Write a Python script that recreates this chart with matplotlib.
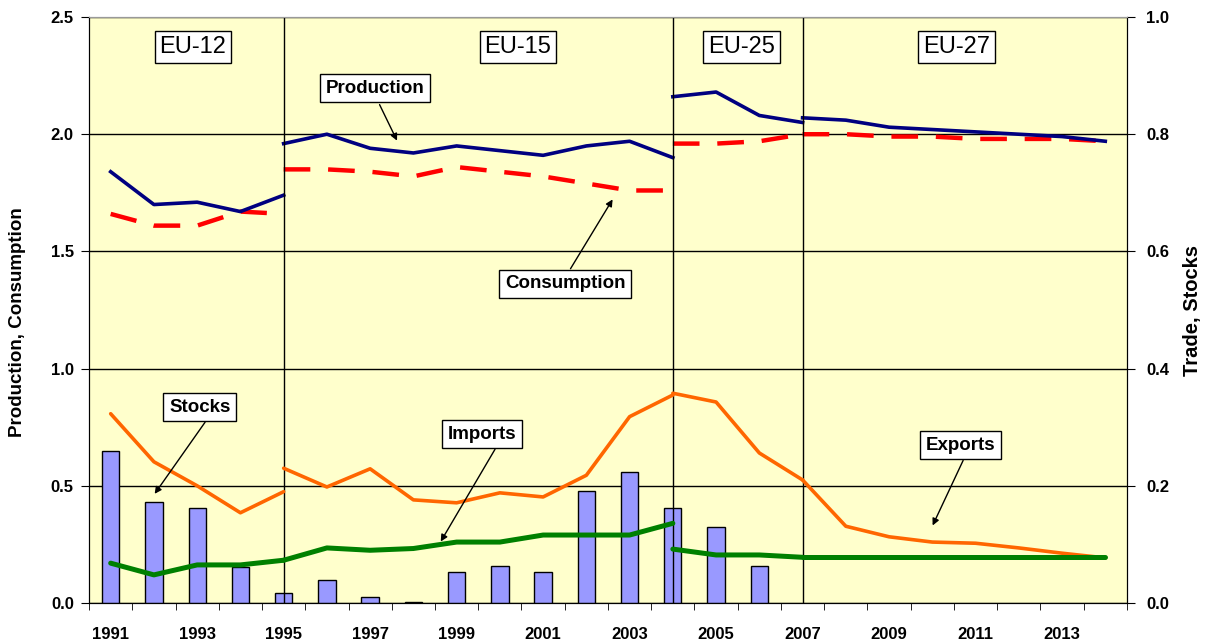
import matplotlib
matplotlib.use("Agg")
import matplotlib.pyplot as plt

plt.rcParams["font.family"] = ["Liberation Sans", "DejaVu Sans"]

# --- data ---
yrs_eu12 = [1991, 1992, 1993, 1994, 1995]
yrs_eu15 = list(range(1995, 2005))
yrs_eu25 = [2004, 2005, 2006, 2007]
yrs_eu27 = list(range(2007, 2015))

prod_eu12 = [1.84, 1.70, 1.71, 1.67, 1.74]
prod_eu15 = [1.96, 2.00, 1.94, 1.92, 1.95, 1.93, 1.91, 1.95, 1.97, 1.90]
prod_eu25 = [2.16, 2.18, 2.08, 2.05]
prod_eu27 = [2.07, 2.06, 2.03, 2.02, 2.01, 2.00, 1.99, 1.97]

cons_eu12 = [1.66, 1.61, 1.61, 1.67, 1.66]
cons_eu15 = [1.85, 1.85, 1.84, 1.82, 1.86, 1.84, 1.82, 1.79, 1.76, 1.76]
cons_eu25 = [1.96, 1.96, 1.97, 2.00]
cons_eu27 = [2.00, 2.00, 1.99, 1.99, 1.98, 1.98, 1.98, 1.97]

exp_eu12 = [0.323, 0.241, 0.200, 0.154, 0.190]
exp_eu15 = [0.230, 0.198, 0.229, 0.176, 0.171, 0.188, 0.181, 0.218, 0.318, 0.355]
exp_eu25 = [0.358, 0.343, 0.256, 0.210]
exp_eu27 = [0.210, 0.131, 0.113, 0.104, 0.102, 0.094, 0.085, 0.077]

imp_eu12 = [0.068, 0.048, 0.065, 0.065, 0.073]
imp_eu15 = [0.073, 0.094, 0.090, 0.093, 0.104, 0.104, 0.116, 0.116, 0.116, 0.136]
imp_eu25 = [0.092, 0.082, 0.082, 0.078]
imp_eu27 = [0.078, 0.078, 0.078, 0.078, 0.078, 0.078, 0.078, 0.078]

stock_years = list(range(1991, 2007))
stocks = [0.259, 0.172, 0.162, 0.061, 0.017, 0.039, 0.010, 0.002,
          0.053, 0.063, 0.053, 0.191, 0.223, 0.162, 0.129, 0.063]

breaks = [1995, 2004, 2007]
blocs = ["EU-12", "EU-15", "EU-25", "EU-27"]
bloc_x = [1992.9, 2000.42, 2005.59, 2010.56]
tick_years = list(range(1991, 2014, 2))

segs = [yrs_eu12, yrs_eu15, yrs_eu25, yrs_eu27]

fig = plt.figure(figsize=(12.05, 6.4), dpi=100)
ax = fig.add_axes([0.0739, 0.0578, 0.8613, 0.9156])
ax2 = ax.twinx()

ax.set_facecolor("#FFFFCC")
ax.set_xlim(1990.5, 2014.5)
ax.set_ylim(0, 2.5)
ax2.set_ylim(0, 1.0)
ax.set_yticks([0, 0.5, 1.0, 1.5, 2.0, 2.5])
ax2.set_yticks([0, 0.2, 0.4, 0.6, 0.8, 1.0])
ax.grid(axis="y", color="black", lw=1)
ax.set_axisbelow(True)

# stocks bars + trade lines on the right axis
ax2.bar(stock_years, stocks, width=0.4, color="#9999FF", edgecolor="black", lw=1, zorder=2)
for b in breaks:
    ax2.axvline(b, color="black", lw=1, zorder=2.5)
for x, e, i in zip(segs, [exp_eu12, exp_eu15, exp_eu25, exp_eu27],
                   [imp_eu12, imp_eu15, imp_eu25, imp_eu27]):
    ax2.plot(x, e, color="#FF6600", lw=2.6, zorder=3, solid_capstyle="round")
    ax2.plot(x, i, color="#008000", lw=3.6, zorder=3, solid_capstyle="round")

# production / consumption on the left axis
for x, p, c in zip(segs, [prod_eu12, prod_eu15, prod_eu25, prod_eu27],
                   [cons_eu12, cons_eu15, cons_eu25, cons_eu27]):
    ax.plot(x, c, color="#FF0000", lw=3.2, dashes=(6, 4), zorder=3)
    ax.plot(x, p, color="#000080", lw=2.6, zorder=3)

# ticks
ax.set_xticks(tick_years)
ax.set_xticklabels([str(y) for y in tick_years], fontsize=12, fontweight="bold")
ax.set_xticks([y + 0.5 for y in range(1990, 2015)], minor=True)
ax.tick_params(axis="x", which="major", length=0, pad=17)
ax.tick_params(axis="x", which="minor", length=5, direction="out")
ax.tick_params(axis="y", length=6, labelsize=12, pad=5)
ax2.tick_params(axis="y", length=6, labelsize=12, pad=8)
ax.set_yticklabels([f"{v:.1f}" for v in ax.get_yticks()], fontweight="bold")
ax2.set_yticklabels([f"{v:.1f}" for v in ax2.get_yticks()], fontweight="bold")
ax.spines["top"].set_color("#999999")
ax2.spines["top"].set_color("#999999")

ax.set_ylabel("Production, Consumption", fontsize=13.5, fontweight="bold")
ax2.set_ylabel("Trade, Stocks", fontsize=14.5, fontweight="bold")
ax.yaxis.set_label_coords(-0.061, 0.48)
ax2.yaxis.set_label_coords(1.054, 0.5)

box = dict(boxstyle="square,pad=0.2", fc="white", ec="black", lw=1)
for name, x in zip(blocs, bloc_x):
    ax2.text(x, 2.372, name, transform=ax.transData, fontsize=17,
             ha="center", va="center", bbox=box, zorder=5)

notes = [("Production", (1997.12, 2.197), (1997.19, 2.137), (1997.65, 1.962)),
         ("Consumption", (2001.51, 1.361), (2001.60, 1.416), (2002.64, 1.732)),
         ("Stocks", (1993.06, 0.836), (1993.22, 0.781), (1991.98, 0.456)),
         ("Imports", (1999.59, 0.721), (1999.92, 0.666), (1998.60, 0.252)),
         ("Exports", (2010.65, 0.674), (2010.74, 0.619), (2009.98, 0.320))]
for label, c, s, e in notes:
    ax2.text(c[0], c[1], label, transform=ax.transData, fontsize=13.5,
             fontweight="bold", ha="center", va="center",
             bbox=dict(boxstyle="square,pad=0.3", fc="white", ec="black", lw=1), zorder=6)
    ax2.annotate("", xy=e, xytext=s, xycoords=ax.transData, textcoords=ax.transData,
                 arrowprops=dict(arrowstyle="-|>", color="black", lw=1, mutation_scale=10),
                 zorder=6)

fig.savefig("out.png", dpi=100)
